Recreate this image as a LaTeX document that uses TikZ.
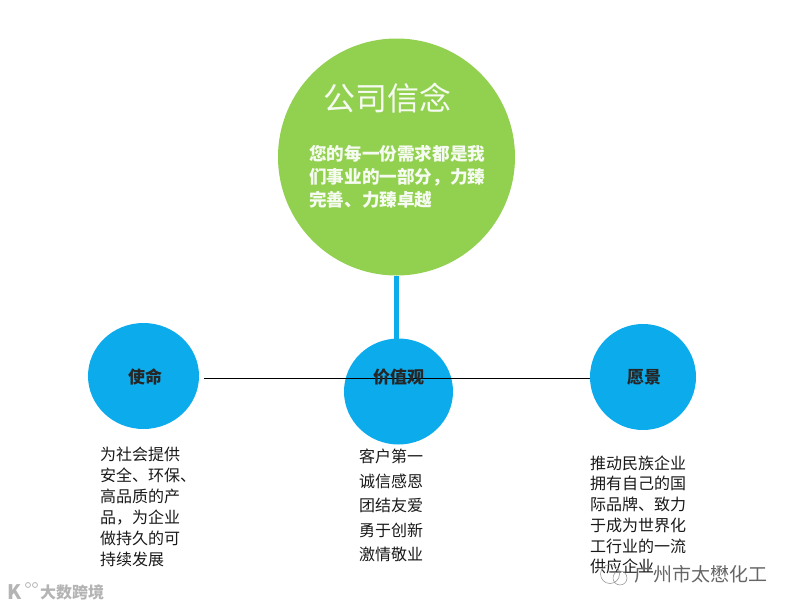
\documentclass[tikz,border=0pt]{standalone}
\usepackage{fontspec}
\usepackage{xcolor}
\usetikzlibrary{positioning, shapes.geometric}
\setmainfont{Noto Sans CJK SC}
\definecolor{beliefgreen}{HTML}{92d050}
\definecolor{valueblue}{HTML}{0cabec}
\definecolor{markgray}{HTML}{b4b4b4}
\tikzset{
    valuecircle/.style={ellipse, fill=valueblue, inner sep=0pt, minimum width=#1, minimum height=106pt},
    circlelabel/.style={font=\fontsize{17pt}{17pt}\selectfont\bfseries, text=black!85, inner sep=0pt},
    bodytext/.style={anchor=north west, align=left, inner sep=0pt, text=black!90}
}

\begin{document}
\begin{tikzpicture}[x=1pt, y=-1pt]
    \useasboundingbox (0,0) rectangle (793,608);

    % --- 1. BELIEF ---
    \node[circle, fill=beliefgreen, inner sep=0pt, minimum size=237pt] (belief) at (396.5,157) {};
    \node[text=white!92!beliefgreen, inner sep=0pt, font=\fontsize{32pt}{32pt}\selectfont] (belieftitle) at (387.5,98.5) {公司信念};
    \node[bodytext, text=white!92!beliefgreen, font=\fontsize{17.6pt}{23pt}\selectfont\bfseries] (beliefbody) at (309,145) {您的每一份需求都是我\\们事业的一部分，力臻\\完善、力臻卓越};

    % --- 2. CIRCLES ---
    \node[valuecircle=111pt] (mission) at (143.5,376) {};
    \node[valuecircle=109pt] (values) at (398.5,391.5) {};
    \node[valuecircle=106pt] (vision) at (643,377) {};

    % --- 3. CONNECTORS ---
    \draw[valueblue, line width=5pt] (belief) -- (belief |- values);
    \coordinate (linestart) at (204,378);
    \draw[black, line width=0.9pt] (linestart) -- (linestart -| vision.west);

    % --- 4. LABELS ---
    \node[circlelabel] (missionlabel) at (145,377) {使命};
    \node[circlelabel] (valueslabel) at (398.5,377) {价值观};
    \node[circlelabel] (visionlabel) at (644,377.5) {愿景};

    % --- 5. TEXT BELOW ---
    \node[bodytext, font=\fontsize{16pt}{21pt}\selectfont] (missiontext) at (100,447) {为社会提供\\安全、环保、\\高品质的产\\品，为企业\\做持久的可\\持续发展};
    \node[bodytext, font=\fontsize{16pt}{24.5pt}\selectfont] (valuestext) at (359,449) {客户第一\\诚信感恩\\团结友爱\\勇于创新\\激情敬业};
    \node[bodytext, font=\fontsize{16pt}{20.7pt}\selectfont] (visiontext) at (590,455.5) {推动民族企业\\拥有自己的国\\际品牌、致力\\于成为世界化\\工行业的一流\\供应企业};

    % --- 6. MARKS ---
    \node[text=markgray, inner sep=0pt, font=\fontsize{16pt}{16pt}\selectfont\bfseries] (leftmark) at (72,592) {大数跨境};
    \node[text=markgray, inner sep=0pt, font=\fontsize{20pt}{20pt}\selectfont\bfseries] (leftlogo) at (15,592) {K};
    \draw[markgray, line width=0.8pt] (28,585) circle (2.5) (35,585) circle (2.5);
    \node[text=black!60, inner sep=0pt, font=\fontsize{19pt}{19pt}\selectfont] (rightmark) at (701,574) {广州市太懋化工};
    \draw[black!45, line width=0.5pt] (610,574) circle (9.5) (620,578) circle (7);
\end{tikzpicture}
\end{document}
